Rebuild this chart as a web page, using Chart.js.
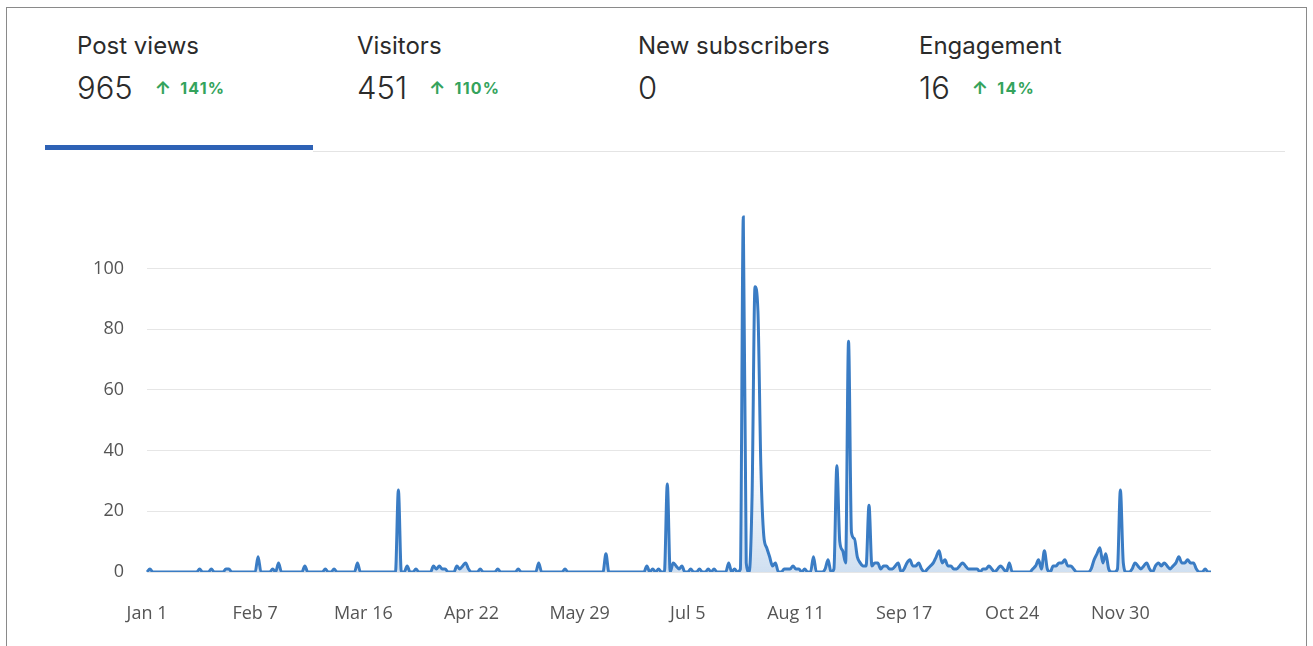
<!DOCTYPE html>
<html lang="en">
<head>
    <meta charset="UTF-8">
    <title>Post views</title>
    <script src="https://cdn.jsdelivr.net/npm/chart.js@4"></script>
    <style>
        html, body { margin: 0; padding: 0; background: #fff; }
        body { width: 1313px; height: 646px; position: relative; overflow: hidden; font-family: 'Inter', 'Open Sans', sans-serif; color: #2b2b2b; }
        .frame { position: absolute; left: 6px; top: 7px; width: 1299px; height: 700px; border: 1px solid #8a8a8a; }
        .tab { position: absolute; top: 32px; }
        .tab .name { font-size: 24px; line-height: 28px; }
        .tab .val { margin-top: 10px; font-size: 31px; line-height: 36px; font-weight: 300; display: flex; align-items: center; }
        .tab .chg { margin-left: 22px; font-size: 16px; font-weight: 700; color: #34a35c; letter-spacing: 1.2px; }
        .tab .chg .arr { margin-right: 8px; font-size: 18px; font-weight: 700; }
        .tabline { position: absolute; left: 313px; top: 151px; width: 972px; height: 1px; background: #e4e4e4; }
        .tabsel { position: absolute; left: 45px; top: 145px; width: 268px; height: 5px; background: #2e62b5; }
        #wrap { position: absolute; left: 0; top: 174px; width: 1313px; height: 472px; }
    </style>
</head>
<body>
    <div class="frame"></div>

    <div class="tab" style="left:77px">
        <div class="name">Post views</div>
        <div class="val">965 <span class="chg"><span class="arr">↑</span>141%</span></div>
    </div>
    <div class="tab" style="left:357px">
        <div class="name">Visitors</div>
        <div class="val">451 <span class="chg"><span class="arr">↑</span>110%</span></div>
    </div>
    <div class="tab" style="left:638px">
        <div class="name">New subscribers</div>
        <div class="val">0</div>
    </div>
    <div class="tab" style="left:919px">
        <div class="name">Engagement</div>
        <div class="val">16 <span class="chg"><span class="arr">↑</span>14%</span></div>
    </div>
    <div class="tabsel"></div>
    <div class="tabline"></div>

    <div id="wrap"><canvas id="viewsChart"></canvas></div>

    <script>
        // daily post views, Jan 1 .. Dec 31
        const postViews = [
            0, 1, 0, 0, 0, 0, 0, 0, 0, 0,
            0, 0, 0, 0, 0, 0, 0, 0, 1, 0,
            0, 0, 1, 0, 0, 0, 0, 1, 1, 0,
            0, 0, 0, 0, 0, 0, 0, 0, 5, 0,
            0, 0, 0, 1, 0, 3, 0, 0, 0, 0,
            0, 0, 0, 0, 2, 0, 0, 0, 0, 0,
            0, 1, 0, 0, 1, 0, 0, 0, 0, 0,
            0, 0, 3, 0, 0, 0, 0, 0, 0, 0,
            0, 0, 0, 0, 0, 0, 27, 0, 0, 2,
            0, 0, 1, 0, 0, 0, 0, 0, 2, 1,
            2, 1, 1, 0, 0, 0, 2, 1, 2, 3,
            1, 0, 0, 0, 1, 0, 0, 0, 0, 0,
            1, 0, 0, 0, 0, 0, 0, 1, 0, 0,
            0, 0, 0, 0, 3, 0, 0, 0, 0, 0,
            0, 0, 0, 1, 0, 0, 0, 0, 0, 0,
            0, 0, 0, 0, 0, 0, 0, 6, 0, 0,
            0, 0, 0, 0, 0, 0, 0, 0, 0, 0,
            0, 2, 0, 1, 0, 1, 0, 0, 29, 0,
            3, 2, 1, 2, 0, 0, 1, 0, 0, 1,
            0, 0, 1, 0, 1, 0, 0, 0, 0, 3,
            0, 1, 0, 1, 117, 3, 0, 25, 94, 86,
            35, 12, 8, 5, 2, 3, 0, 0, 1, 1,
            1, 2, 1, 1, 0, 1, 0, 0, 5, 0,
            0, 0, 1, 4, 0, 1, 35, 10, 7, 3,
            76, 13, 11, 5, 3, 2, 2, 22, 2, 3,
            3, 1, 2, 2, 1, 1, 2, 3, 0, 1,
            3, 4, 2, 2, 3, 1, 0, 1, 2, 3,
            5, 7, 3, 4, 2, 2, 1, 1, 2, 3,
            2, 1, 1, 1, 1, 0, 1, 1, 2, 1,
            0, 1, 2, 1, 0, 3, 0, 0, 0, 0,
            0, 0, 0, 1, 2, 4, 1, 7, 1, 0,
            2, 2, 3, 3, 4, 2, 2, 1, 0, 0,
            0, 0, 0, 1, 4, 6, 8, 3, 6, 1,
            0, 0, 1, 27, 3, 0, 0, 1, 3, 2,
            1, 2, 3, 1, 0, 2, 3, 2, 3, 2,
            1, 2, 3, 5, 3, 3, 4, 3, 3, 1,
            0, 0, 1, 0, 0
        ];

        const tickLabels = ['Jan 1', 'Feb 7', 'Mar 16', 'Apr 22', 'May 29', 'Jul 5', 'Aug 11', 'Sep 17', 'Oct 24', 'Nov 30'];
        const yTicks = [0, 20, 40, 60, 80, 100];

        const monthNames = ['Jan', 'Feb', 'Mar', 'Apr', 'May', 'Jun', 'Jul', 'Aug', 'Sep', 'Oct', 'Nov', 'Dec'];
        const monthDays = [31, 28, 31, 30, 31, 30, 31, 31, 30, 31, 30, 31];

        // one category per day
        const days = [];
        monthNames.forEach((m, i) => {
            for (let d = 1; d <= monthDays[i]; d++) days.push(m + ' ' + d);
        });

        const lineColor = '#3a7cc4';

        new Chart(document.getElementById('viewsChart'), {
            type: 'line',
            data: {
                labels: days,
                datasets: [{
                    data: postViews,
                    borderColor: lineColor,
                    borderWidth: 3,
                    pointRadius: 0,
                    cubicInterpolationMode: 'monotone',
                    fill: 'origin',
                    backgroundColor: function(ctx) {
                        const area = ctx.chart.chartArea;
                        if (!area) return 'rgba(58,124,196,0.15)';
                        const g = ctx.chart.ctx.createLinearGradient(0, area.bottom - 110, 0, area.bottom);
                        g.addColorStop(0, 'rgba(58,124,196,0)');
                        g.addColorStop(1, 'rgba(58,124,196,0.24)');
                        return g;
                    }
                }]
            },
            options: {
                responsive: true,
                maintainAspectRatio: false,
                animation: false,
                layout: { padding: { top: 1, right: 102, left: 0, bottom: 0 } },
                plugins: {
                    legend: { display: false },
                    tooltip: { enabled: false }
                },
                scales: {
                    x: {
                        grid: { display: false },
                        border: { display: false },
                        afterBuildTicks: function(scale) {
                            scale.ticks = scale.ticks.filter(t => tickLabels.includes(days[t.value]));
                        },
                        afterFit: function(scale) { scale.height = 74; },
                        ticks: {
                            autoSkip: false,
                            maxRotation: 0,
                            padding: 23,
                            color: '#555',
                            font: { family: 'Open Sans', size: 18 },
                            callback: function(value) { return days[value]; }
                        }
                    },
                    y: {
                        min: 0,
                        max: 120,
                        afterBuildTicks: function(scale) {
                            scale.ticks = yTicks.map(v => ({ value: v }));
                        },
                        afterFit: function(scale) { scale.width = 147; },
                        grid: { color: '#e6e6e6', drawTicks: false },
                        border: { display: false },
                        ticks: {
                            padding: 23,
                            color: '#555',
                            font: { family: 'Open Sans', size: 18 }
                        }
                    }
                }
            }
        });
    </script>
</body>
</html>
